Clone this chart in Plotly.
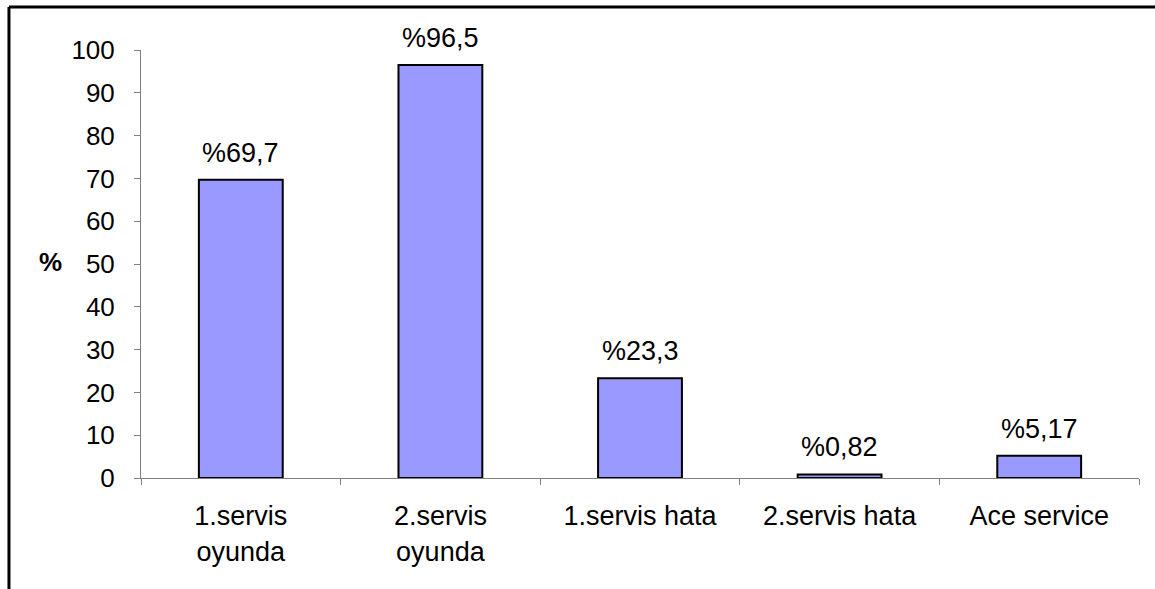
import plotly.graph_objects as go

categories = ["1.servis<br>oyunda", "2.servis<br>oyunda", "1.servis hata", "2.servis hata", "Ace service"]
values = [69.7, 96.5, 23.3, 0.82, 5.17]
value_labels = ["%69,7", "%96,5", "%23,3", "%0,82", "%5,17"]
y_ticks = [0, 10, 20, 30, 40, 50, 60, 70, 80, 90, 100]

FONT = "Liberation Sans, Arial, sans-serif"
FS = 26
FS2 = 27

fig = go.Figure()
fig.add_trace(go.Bar(
    x=categories, y=values,
    marker=dict(color="#9999FF", line=dict(color="black", width=2)),
    hoverinfo="skip",
))

for c, v, t in zip(categories, values, value_labels):
    fig.add_annotation(x=c, y=v, text=t, showarrow=False, yanchor="bottom",
                       yshift=10, font=dict(family=FONT, size=FS2, color="black"))

# y axis title
fig.add_annotation(xref="paper", yref="paper", x=-0.0902, y=0.5047, text="<b>%</b>",
                   showarrow=False, xanchor="center", yanchor="middle",
                   font=dict(family=FONT, size=FS, color="black"))

# outer border (top and left)
fig.add_shape(type="line", xref="paper", yref="paper", x0=-0.1323, x1=1.02, y0=1.1005, y1=1.1005,
              line=dict(color="black", width=3))
fig.add_shape(type="line", xref="paper", yref="paper", x0=-0.1323, x1=-0.1323, y0=-0.3, y1=1.1005,
              line=dict(color="black", width=3))

fig.update_layout(
    width=1155, height=589,
    margin=dict(l=141, r=16, t=50, b=111),
    paper_bgcolor="white", plot_bgcolor="white",
    bargap=0.58,
    showlegend=False,
    font=dict(family=FONT, size=FS, color="black"),
    xaxis=dict(
        type="category", showline=True, linecolor="#808080", linewidth=1,
        ticks="outside", tickson="boundaries", ticklen=6, tickcolor="#808080",
        showgrid=False, zeroline=False,
        tickfont=dict(family=FONT, size=FS2, color="black"),
        ticklabelstandoff=14,
    ),
    yaxis=dict(
        range=[0, 100], tickvals=y_ticks, showline=True, linecolor="#808080", linewidth=1,
        ticks="outside", ticklen=6, tickcolor="#808080",
        showgrid=False, zeroline=False,
        tickfont=dict(family=FONT, size=FS, color="black"),
        ticklabelstandoff=14,
    ),
)

fig.write_html("out.html")
